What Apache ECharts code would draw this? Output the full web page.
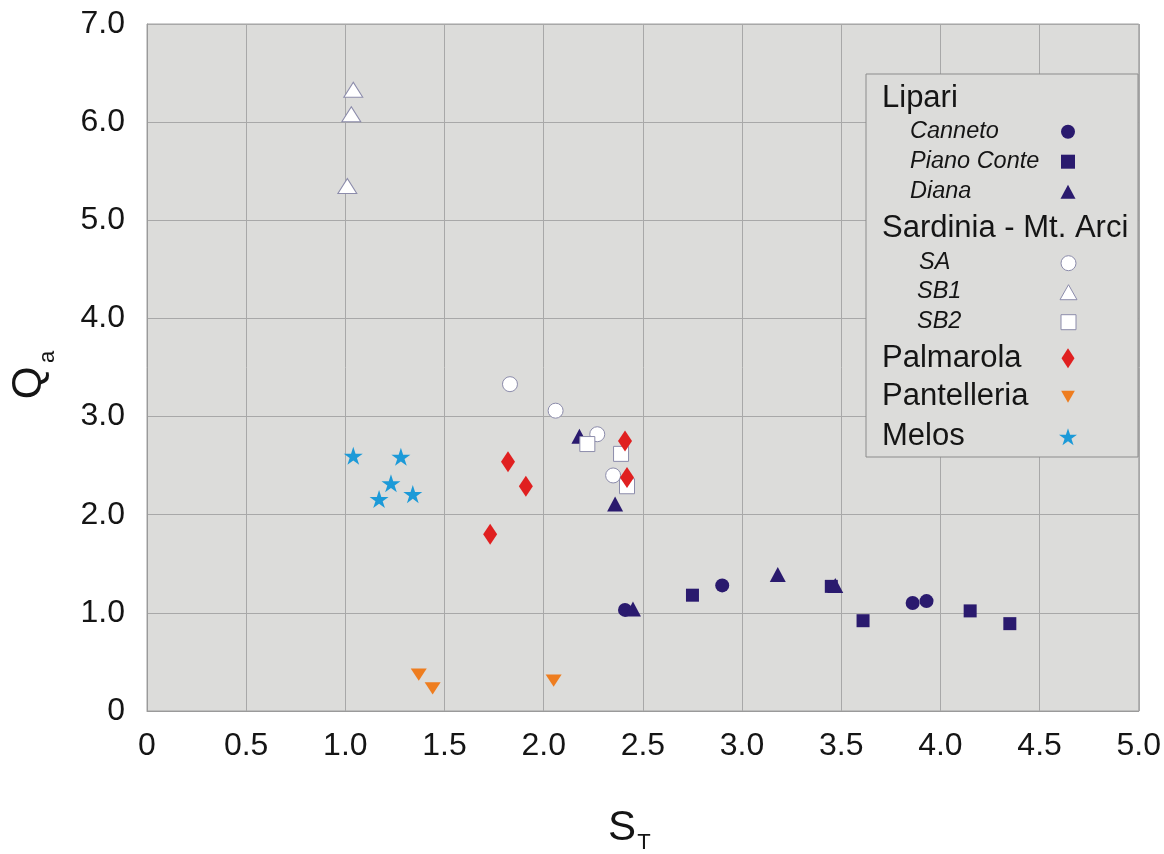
<!DOCTYPE html>
<html>
<head>
<meta charset="utf-8">
<script src="https://cdn.jsdelivr.net/npm/echarts@6/dist/echarts.min.js"></script>
<style>
  html, body { margin: 0; padding: 0; background: #ffffff; }
  #chart { width: 1164px; height: 854px; }
</style>
</head>
<body>
<div id="chart"></div>
<script>
// S_T (x) versus Q_a (y) for obsidian sources
const xTicks = [0, 0.5, 1, 1.5, 2, 2.5, 3, 3.5, 4, 4.5, 5];
const yTicks = [0, 1, 2, 3, 4, 5, 6, 7];

// Lipari
const canneto = [[2.41, 1.03], [2.90, 1.28], [3.86, 1.10], [3.93, 1.12]];
const pianoConte = [[2.75, 1.18], [3.45, 1.27], [3.61, 0.92], [4.15, 1.02], [4.35, 0.89]];
const diana = [[2.18, 2.80], [2.36, 2.11], [2.45, 1.04], [3.18, 1.39], [3.47, 1.28]];
// Sardinia - Mt. Arci
const sa = [[1.83, 3.33], [2.06, 3.06], [2.27, 2.82], [2.35, 2.40]];
const sb1 = [[1.01, 5.35], [1.03, 6.08], [1.04, 6.33]];
const sb2 = [[2.22, 2.72], [2.39, 2.62], [2.42, 2.29]];
// Other sources
const palmarola = [[1.73, 1.80], [1.82, 2.54], [1.91, 2.29], [2.41, 2.75], [2.42, 2.38]];
const pantelleria = [[1.37, 0.37], [1.44, 0.23], [2.05, 0.31]];
const melos = [[1.04, 2.60], [1.17, 2.16], [1.23, 2.32], [1.28, 2.59], [1.34, 2.21]];

const NAVY = '#2a1a6e';
const WHITE_EDGE = '#8c8cab';
const STAR = 'path://M100,0 L122.45,69.1 L195.1,69.1 L136.3,111.8 L158.8,180.9 L100,138.2 L41.2,180.9 L63.7,111.8 L4.9,69.1 L77.55,69.1 Z';
const DOWN_TRI = 'path://M0,0 L16,0 L8,14 Z';

const defs = [
  { name: 'Canneto', data: canneto, symbol: 'circle', size: 14, color: NAVY, lw: 14, lh: 14, ly: 131.7 },
  { name: 'Piano Conte', data: pianoConte, symbol: 'rect', size: 13, color: NAVY, lw: 14, lh: 14, ly: 161.7 },
  { name: 'Diana', data: diana, symbol: 'triangle', size: [16, 15], color: NAVY, lw: 15, lh: 14, ly: 191.7 },
  { name: 'SA', data: sa, symbol: 'circle', size: 15, color: '#ffffff', border: WHITE_EDGE, lw: 15, lh: 15, ly: 262.7 },
  { name: 'SB1', data: sb1, symbol: 'triangle', size: [19, 15], color: '#ffffff', border: WHITE_EDGE, lw: 17, lh: 15, ly: 291.7 },
  { name: 'SB2', data: sb2, symbol: 'rect', size: 15, color: '#ffffff', border: WHITE_EDGE, lw: 15, lh: 15, ly: 321.7 },
  { name: 'Palmarola', data: palmarola, symbol: 'diamond', size: [14, 21], color: '#e02020', lw: 13, lh: 20, ly: 358.3 },
  { name: 'Pantelleria', data: pantelleria, symbol: DOWN_TRI, size: [16, 14], color: '#ee7d1f', lw: 14, lh: 12, ly: 396.7 },
  { name: 'Melos', data: melos, symbol: STAR, size: 19, color: '#1c9ad8', lw: 18, lh: 18, ly: 436.7 }
];

const series = defs.map(d => ({
  name: d.name,
  type: 'scatter',
  data: d.data,
  symbol: d.symbol,
  symbolSize: d.size,
  symbolKeepAspect: true,
  itemStyle: {
    color: d.color,
    borderColor: d.border || d.color,
    borderWidth: d.border ? 1 : 0,
    opacity: 1
  },
  emphasis: { disabled: true }
}));

const ICON_X = 1068;
const legends = defs.map(d => ({
  data: [d.name],
  left: ICON_X - d.lw / 2,
  top: d.ly - d.lh / 2,
  padding: 0,
  itemGap: 0,
  itemWidth: d.lw,
  itemHeight: d.lh,
  selectedMode: false,
  formatter: () => '',
  z: 10,
  itemStyle: {
    color: d.color,
    borderColor: d.border || d.color,
    borderWidth: d.border ? 1 : 0
  }
}));

const FONT = '"Liberation Sans", Arial, sans-serif';
const head = (text, y) => ({
  type: 'text', x: 882, y: y, z: 10,
  style: { text, font: '31px ' + FONT, fill: '#151515', verticalAlign: 'middle' }
});
const sub = (text, x, y) => ({
  type: 'text', x: x, y: y, z: 10,
  style: { text, font: 'italic 23.5px ' + FONT, fill: '#151515', verticalAlign: 'middle' }
});

const chart = echarts.init(document.getElementById('chart'));
chart.setOption({
  animation: false,
  backgroundColor: '#ffffff',
  grid: {
    left: 147, right: 24, top: 24, bottom: 143,
    show: true, backgroundColor: '#dcdcda', borderColor: '#a0a0a0', borderWidth: 1
  },
  xAxis: {
    type: 'value', min: xTicks[0], max: xTicks[xTicks.length - 1], interval: 0.5,
    axisLine: { show: true, lineStyle: { color: '#9a9a9a', width: 1 } },
    axisTick: { show: false },
    splitLine: { show: true, lineStyle: { color: '#a8a8a8', width: 1 } },
    axisLabel: {
      margin: 19, fontSize: 32, fontFamily: FONT, color: '#151515',
      formatter: v => (v === 0 ? '0' : v.toFixed(1))
    }
  },
  yAxis: {
    type: 'value', min: yTicks[0], max: yTicks[yTicks.length - 1], interval: 1,
    axisLine: { show: true, lineStyle: { color: '#9a9a9a', width: 1 } },
    axisTick: { show: false },
    splitLine: { show: true, lineStyle: { color: '#a8a8a8', width: 1 } },
    axisLabel: {
      margin: 22, fontSize: 32, fontFamily: FONT, color: '#151515',
      padding: [0, 0, 7, 0],
      formatter: v => (v === 0 ? '0' : v.toFixed(1))
    }
  },
  legend: legends,
  graphic: [
    {
      type: 'rect', z: 5,
      shape: { x: 866, y: 74, width: 272, height: 383 },
      style: { fill: '#dcdcda', stroke: '#8c8c8c', lineWidth: 1 }
    },
    head('Lipari', 98.3),
    sub('Canneto', 910, 131.7),
    sub('Piano Conte', 910, 161.7),
    sub('Diana', 910, 191.7),
    head('Sardinia - Mt. Arci', 228.3),
    sub('SA', 919, 262.7),
    sub('SB1', 917, 291.7),
    sub('SB2', 917, 321.7),
    head('Palmarola', 358.3),
    head('Pantelleria', 396.7),
    head('Melos', 436.7),
    // axis titles with subscripts
    {
      type: 'text', x: 622, y: 828,
      style: { text: 'S', font: '42px ' + FONT, fill: '#151515', align: 'center', verticalAlign: 'middle' }
    },
    {
      type: 'text', x: 644, y: 843,
      style: { text: 'T', font: '22px ' + FONT, fill: '#151515', align: 'center', verticalAlign: 'middle' }
    },
    {
      type: 'text', x: 29, y: 383, rotation: Math.PI / 2,
      style: { text: 'Q', font: '42px ' + FONT, fill: '#151515', align: 'center', verticalAlign: 'middle' }
    },
    {
      type: 'text', x: 48, y: 357, rotation: Math.PI / 2,
      style: { text: 'a', font: '22px ' + FONT, fill: '#151515', align: 'center', verticalAlign: 'middle' }
    }
  ],
  series: series
});
</script>
</body>
</html>
